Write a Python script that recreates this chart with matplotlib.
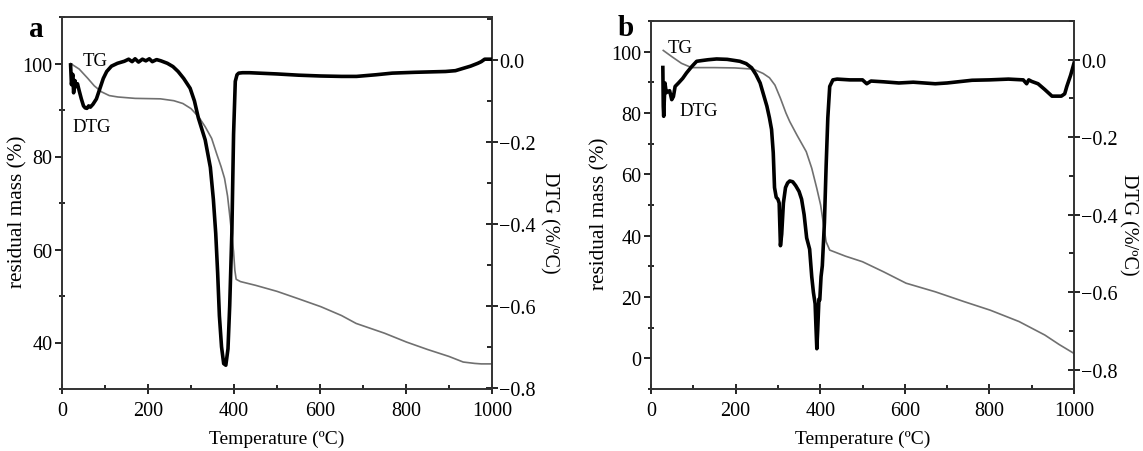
import matplotlib
matplotlib.use("Agg")
import matplotlib.pyplot as plt
from matplotlib.ticker import MultipleLocator

# ---------------- data ----------------
# Panel a – TG (residual mass, %)
tg_a_x = [20, 40, 60, 75, 92, 110, 130, 170, 229, 260, 281, 300, 318, 333, 348, 360, 370, 378, 385, 390, 395, 399, 402, 405, 415, 450, 500, 550, 602, 650, 684, 750, 801, 850, 900, 933, 960, 975, 1000]
tg_a_y = [100, 98.8, 96.8, 95.2, 93.9, 93.1, 92.8, 92.5, 92.4, 92.0, 91.4, 90.3, 88.5, 86.4, 83.9, 80.5, 77.8, 75.3, 71.5, 67.4, 63.0, 59.5, 55.5, 53.6, 53.1, 52.3, 51.0, 49.4, 47.7, 45.8, 44.1, 42.0, 40.1, 38.5, 37.0, 35.8, 35.5, 35.4, 35.4]
# Panel a – DTG (%/°C)
dtg_a_x = [20, 22, 25, 27, 30, 33, 36, 40, 45, 50, 54, 58, 62, 66, 72, 80, 88, 96, 104, 115, 129, 145, 155, 163, 170, 178, 187, 195, 203, 210, 220, 230, 245, 258, 270, 283, 298, 308, 317, 333, 345, 352, 357.5, 362, 366, 371, 376, 381, 386, 390, 395, 399, 403, 407, 411, 420, 436, 500, 550, 602, 650, 685, 730, 768, 820, 892, 915, 934, 950, 967, 975, 983, 1000]
dtg_a_y = [-0.012, -0.06, -0.035, -0.08, -0.05, -0.065, -0.058, -0.075, -0.095, -0.112, -0.117, -0.118, -0.112, -0.115, -0.108, -0.095, -0.07, -0.045, -0.028, -0.015, -0.008, -0.003, 0.002, -0.004, 0.003, -0.005, 0.002, -0.002, 0.003, -0.004, 0.001, -0.002, -0.008, -0.016, -0.028, -0.045, -0.069, -0.1, -0.141, -0.195, -0.262, -0.34, -0.423, -0.52, -0.624, -0.7, -0.741, -0.745, -0.705, -0.6, -0.422, -0.181, -0.052, -0.036, -0.032, -0.031, -0.031, -0.034, -0.037, -0.039, -0.040, -0.040, -0.036, -0.032, -0.030, -0.028, -0.026, -0.020, -0.015, -0.008, -0.004, 0.002, 0.002]

# Panel b – TG (residual mass, %)
tg_b_x = [29, 50, 72, 96, 150, 198, 242, 265, 280, 293, 306, 319, 328, 345, 367, 380, 392, 401, 408, 414, 422.5, 460, 500, 550, 603, 672, 740, 802, 870, 931, 965, 1000]
tg_b_y = [100.4, 98.3, 96.2, 94.8, 94.8, 94.7, 94.3, 92.9, 91.5, 89.1, 84.8, 80.0, 77.2, 72.8, 67.4, 62.0, 55.4, 50.0, 43.5, 38.0, 35.3, 33.3, 31.5, 28.2, 24.5, 21.7, 18.5, 15.7, 12.0, 7.6, 4.5, 1.6]
# Panel b – DTG (%/°C)
dtg_b_x = [28, 29, 30, 33, 36, 40, 44, 49, 53, 57,
           65, 75, 84, 96, 108, 121, 135, 155, 180, 210,
           225, 238, 248, 258, 266, 274, 280, 285, 289, 292,
           296, 300, 303, 306, 309, 313, 318, 323, 328, 335,
           342, 350, 356, 362, 368, 375, 380, 384, 388, 390,
           392, 394, 397, 399, 402, 405, 410, 414, 418, 422.5,
           430, 440, 470, 500, 510, 520, 550, 586, 620, 672,
           700, 759, 800, 845, 880, 888, 893, 900, 915, 931,
           948, 960, 970, 978, 983, 992, 1000]
dtg_b_y = [-0.02, -0.12, -0.146, -0.06, -0.085, -0.082, -0.08, -0.103, -0.095, -0.069,
           -0.06, -0.048, -0.034, -0.018, -0.004, -0.002, 0.0, 0.002, 0.001, -0.004,
           -0.01, -0.021, -0.038, -0.06, -0.09, -0.12, -0.15, -0.18, -0.24, -0.33,
           -0.355, -0.36, -0.37, -0.48, -0.45, -0.37, -0.33, -0.318, -0.313, -0.315,
           -0.325, -0.34, -0.36, -0.40, -0.46, -0.489, -0.56, -0.601, -0.63, -0.69,
           -0.746, -0.7, -0.618, -0.62, -0.56, -0.532, -0.42, -0.275, -0.15, -0.069,
           -0.052, -0.050, -0.052, -0.052, -0.062, -0.055, -0.057, -0.060, -0.058, -0.062,
           -0.060, -0.053, -0.052, -0.050, -0.052, -0.062, -0.052, -0.056, -0.062, -0.077,
           -0.094, -0.094, -0.094, -0.088, -0.069, -0.04, -0.009]

x_ticks = [0, 200, 400, 600, 800, 1000]
left_ticks_a = [40, 60, 80, 100]
left_ticks_b = [0, 20, 40, 60, 80, 100]
right_ticks = [0.0, -0.2, -0.4, -0.6, -0.8]

# ---------------- styling ----------------
plt.rcParams['font.family'] = ['Liberation Serif', 'DejaVu Serif']
TICK_FS = 14.5
TG_COLOR = '#707070'
DTG_COLOR = '#000000'
SPINE_COLOR = '#333333'

fig = plt.figure(figsize=(11.43, 4.52), dpi=100)


def fmt_right(v):
    return f"{v:.1f}".replace('-', '\u2212')


def make_panel(rect, tg_x, tg_y, dtg_x, dtg_y, ylim_l, ylim_r, lticks, letter,
               letter_pos, tg_lbl, dtg_lbl, ylab_x, rlab_x, xlab_y):
    ax = fig.add_axes(rect)
    ax.plot(tg_x, tg_y, color=TG_COLOR, lw=1.2, zorder=2)
    ax.set_xlim(0, 1000)
    ax.set_ylim(*ylim_l)
    ax.set_xticks(x_ticks)
    ax.set_yticks(lticks)
    ax.xaxis.set_minor_locator(MultipleLocator(100))
    ax.yaxis.set_minor_locator(MultipleLocator(10))
    ax.tick_params(axis='x', which='major', direction='inout', length=7, width=1.2,
                   labelsize=TICK_FS, pad=5, top=False)
    ax.tick_params(axis='x', which='minor', direction='in', length=3, width=1.2, top=False)
    ax.tick_params(axis='y', which='major', direction='out', length=5, width=1.2,
                   labelsize=TICK_FS, pad=2, right=False)
    ax.tick_params(axis='y', which='minor', direction='inout', length=4, width=1.2, right=False)
    for sp in ax.spines.values():
        sp.set_linewidth(1.2)
        sp.set_color(SPINE_COLOR)
    ax.set_xlabel('Temperature (ºC)', fontsize=14, va='center')
    ax.xaxis.set_label_coords(0.5, xlab_y)
    ax.set_ylabel('residual mass (%)', fontsize=15.3, va='center')
    ax.yaxis.set_label_coords(ylab_x, 0.48)

    ax2 = ax.twinx()
    ax2.plot(dtg_x, dtg_y, color=DTG_COLOR, lw=2.6, zorder=3)
    ax2.set_ylim(*ylim_r)
    ax2.set_yticks(right_ticks)
    ax2.set_yticklabels([fmt_right(v) for v in right_ticks])
    ax2.yaxis.set_minor_locator(MultipleLocator(0.1))
    ax2.tick_params(axis='y', which='major', direction='inout', length=8, width=1.2,
                    labelsize=TICK_FS, pad=1)
    ax2.tick_params(axis='y', which='minor', direction='in', length=3.5, width=1.2)
    for sp in ax2.spines.values():
        sp.set_linewidth(1.2)
        sp.set_color(SPINE_COLOR)
    ax2.set_ylabel('DTG (%/ºC)', fontsize=14.5, rotation=270, va='center')
    ax2.yaxis.set_label_coords(rlab_x, 0.45)

    ax.text(letter_pos[0], letter_pos[1], letter, transform=ax.transAxes, fontsize=21,
            fontweight='bold', ha='center', va='center')
    ax.text(tg_lbl[0], tg_lbl[1], 'TG', fontsize=13.5, ha='left', va='center')
    ax.text(dtg_lbl[0], dtg_lbl[1], 'DTG', fontsize=13.5, ha='left', va='center')
    return ax, ax2


make_panel([62 / 1143, 1 - 390 / 452, 430 / 1143, 372 / 452],
           tg_a_x, tg_a_y, dtg_a_x, dtg_a_y, (30, 110), (-0.803, 0.105), left_ticks_a,
           'a', (-0.06, 0.968), (49, 100.6), (25, 86.5), -0.102, 1.133, -0.132)
make_panel([651 / 1143, 1 - 390 / 452, 423 / 1143, 368 / 452],
           tg_b_x, tg_b_y, dtg_b_x, dtg_b_y, (-10, 110), (-0.85, 0.1), left_ticks_b,
           'b', (-0.059, 0.982), (40, 101.4), (68, 80.9), -0.121, 1.128, -0.133)

fig.savefig('out.png', dpi=100)
